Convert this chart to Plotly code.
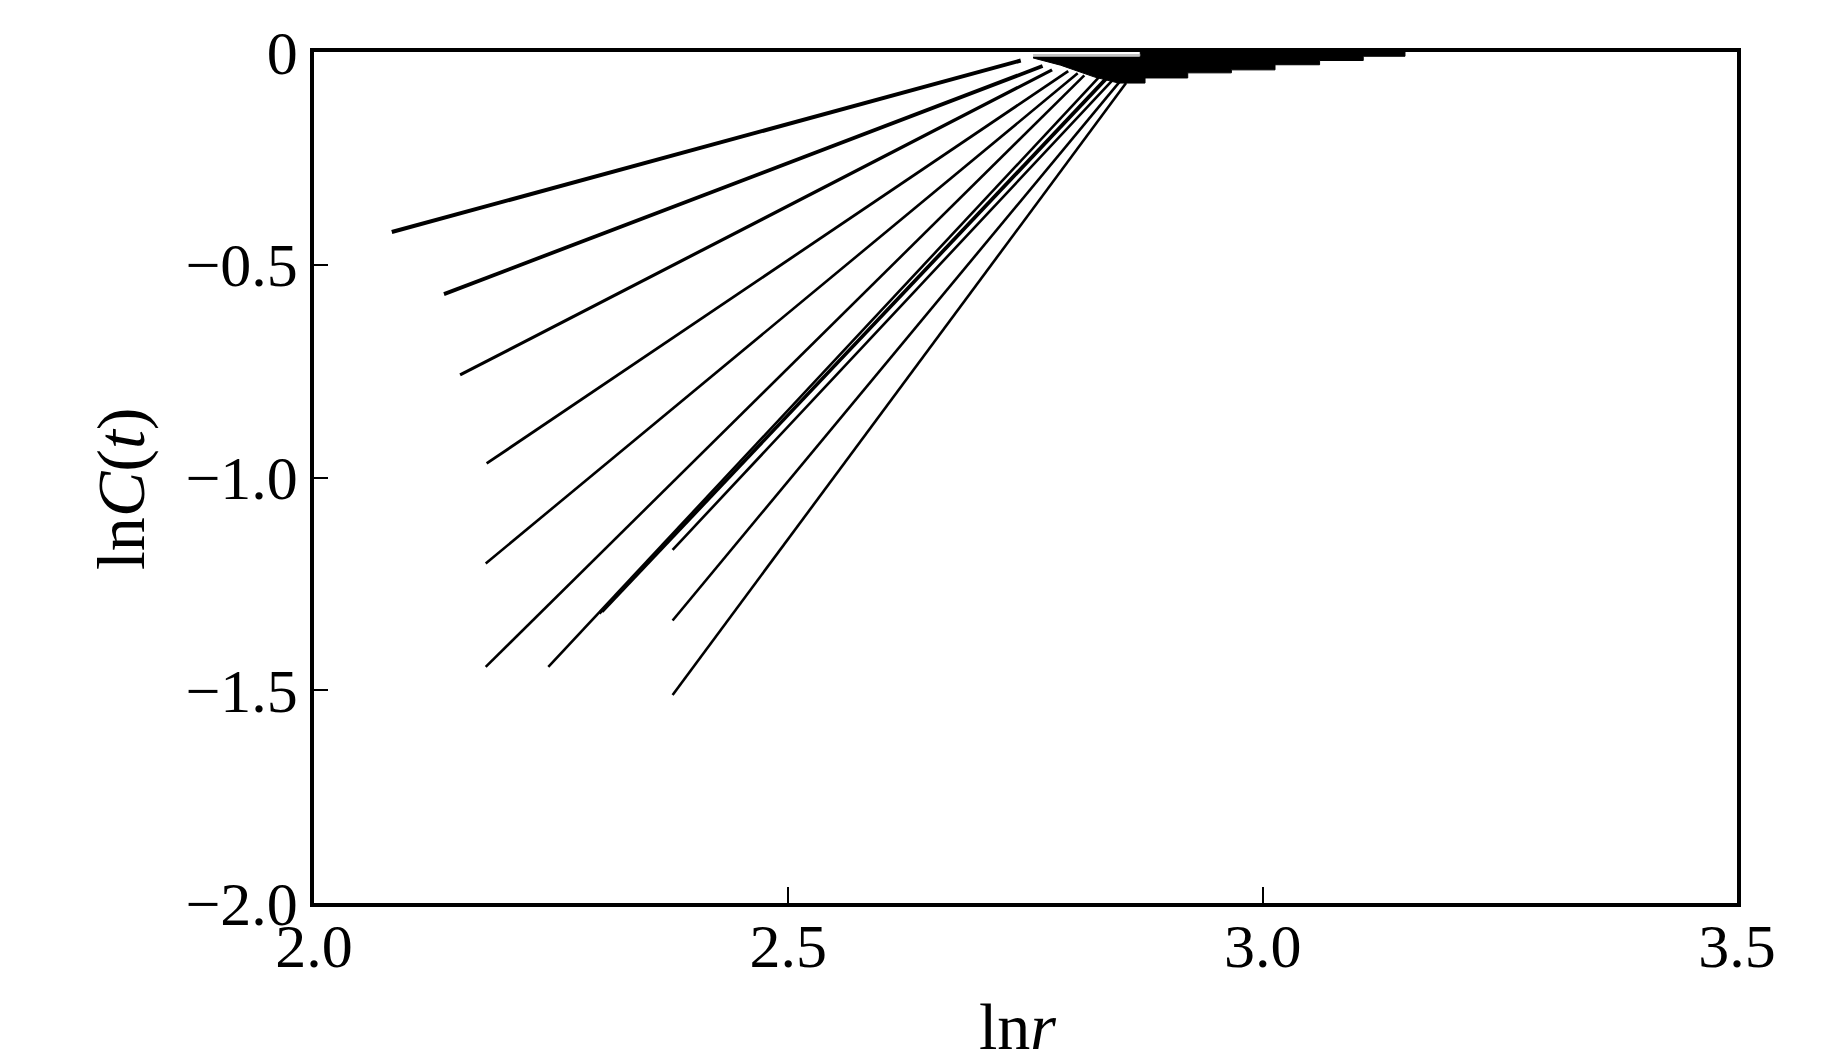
import plotly.graph_objects as go

# Left (lower) end points of each correlation-integral line
start_x = [2.082, 2.137, 2.154, 2.182, 2.181, 2.181, 2.247, 2.301, 2.304, 2.378, 2.378, 2.378]
start_y = [-0.423, -0.569, -0.759, -0.967, -1.202, -1.445, -1.445, -1.320, -1.316, -1.170, -1.336, -1.511]
# Upper (saturation knee) end points
knee_x = [2.745, 2.768, 2.778, 2.795, 2.805, 2.812, 2.828, 2.835, 2.838, 2.843, 2.850, 2.856]
knee_y = [-0.020, -0.033, -0.042, -0.045, -0.050, -0.055, -0.058, -0.060, -0.058, -0.063, -0.068, -0.073]
line_widths = [4.0, 3.8, 3.2, 2.8, 2.6, 2.6, 2.6, 2.4, 2.4, 2.6, 2.6, 2.6]

# Saturated band of overlapping curves near lnC = 0 (outline)
band_x = [2.758, 2.871, 2.871, 3.150, 3.150, 3.106, 3.106, 3.060, 3.060, 3.013, 3.013,
          2.967, 2.967, 2.921, 2.921, 2.876, 2.876, 2.848, 2.823, 2.787, 2.758]
band_y = [-0.012, -0.012, 0.0, 0.0, -0.010, -0.010, -0.020, -0.020, -0.030, -0.030, -0.042,
          -0.042, -0.049, -0.049, -0.061, -0.061, -0.073, -0.073, -0.059, -0.031, -0.014]

gray_x = [2.758, 2.871]
gray_y = [-0.007, -0.007]

x_ticks = [2.0, 2.5, 3.0, 3.5]
x_tick_text = ["2.0", "2.5", "3.0", "3.5"]
y_ticks = [0, -0.5, -1.0, -1.5, -2.0]
y_tick_text = ["0", "\u22120.5", "\u22121.0", "\u22121.5", "\u22122.0"]

x_title = "ln<i>r</i>"
y_title = "ln<i>C</i>(<i>t</i>)"

fig = go.Figure()

fig.add_trace(go.Scatter(x=band_x, y=band_y, mode="lines", fill="toself",
                         fillcolor="black", line=dict(color="black", width=1),
                         showlegend=False, hoverinfo="skip"))
fig.add_trace(go.Scatter(x=gray_x, y=gray_y, mode="lines",
                         line=dict(color="#b0b0b0", width=1.5),
                         showlegend=False, hoverinfo="skip"))

for i in range(len(start_x)):
    fig.add_trace(go.Scatter(x=[start_x[i], knee_x[i]], y=[start_y[i], knee_y[i]],
                             mode="lines", line=dict(color="black", width=line_widths[i]),
                             showlegend=False))

font_family = "Liberation Serif, Times New Roman, serif"

# page body has an 8px margin: figure is sized/offset to compensate
fig.update_layout(
    width=1835, height=1055,
    margin=dict(l=306, r=106, t=44, b=160),
    paper_bgcolor="white", plot_bgcolor="white",
    font=dict(family=font_family, color="black", size=62),
    showlegend=False,
    annotations=[
        dict(text=x_title, xref="x", yref="paper", x=2.742, y=-0.1457,
             xanchor="center", yanchor="middle", showarrow=False,
             font=dict(family=font_family, size=66, color="black")),
        dict(text=y_title, xref="paper", yref="y", x=-0.1356, y=-1.027,
             xanchor="center", yanchor="middle", showarrow=False, textangle=-90,
             font=dict(family=font_family, size=68, color="black")),
    ],
)

fig.update_xaxes(
    range=[2.0, 3.5], tickvals=x_ticks, ticktext=x_tick_text,
    ticks="inside", ticklen=16, tickwidth=2, tickcolor="black",
    showline=True, linewidth=3.5, linecolor="black", mirror=True,
    showgrid=False, zeroline=False, automargin=False,
    ticklabelstandoff=-14,
    tickfont=dict(family=font_family, size=62),
)
fig.update_yaxes(
    range=[-2.0, 0.0], tickvals=y_ticks, ticktext=y_tick_text,
    ticks="inside", ticklen=14, tickwidth=2, tickcolor="black",
    showline=True, linewidth=3.5, linecolor="black", mirror=True,
    showgrid=False, zeroline=False, automargin=False,
    tickfont=dict(family=font_family, size=62),
)

fig.write_html("out.html")
